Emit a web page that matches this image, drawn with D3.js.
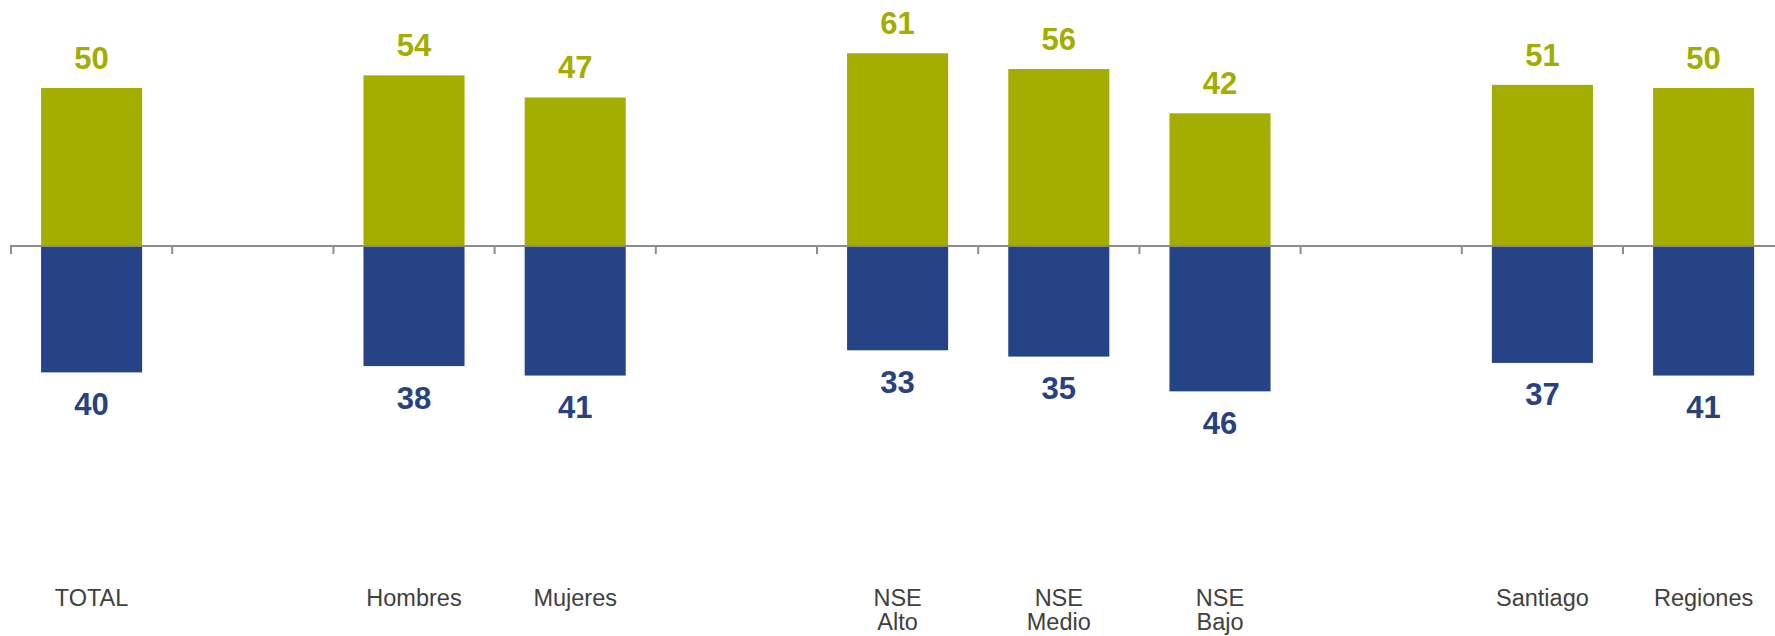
<!DOCTYPE html>
<html>
<head>
<meta charset="utf-8">
<script src="https://cdn.jsdelivr.net/npm/d3@7"></script>
<style>
  html, body { margin: 0; padding: 0; background: #ffffff; overflow: hidden; }
  svg { display: block; }
</style>
</head>
<body>
<svg id="chart" width="1775" height="636"></svg>
<script>
// ---- Data ----
const slots = ["TOTAL", "gap1", "Hombres", "Mujeres", "gap2", "NSE Alto", "NSE Medio", "NSE Bajo", "gap3", "Santiago", "Regiones"];
const categories = ["TOTAL", "Hombres", "Mujeres", "NSE Alto", "NSE Medio", "NSE Bajo", "Santiago", "Regiones"];
const categoryLabels = [["TOTAL"], ["Hombres"], ["Mujeres"], ["NSE", "Alto"], ["NSE", "Medio"], ["NSE", "Bajo"], ["Santiago"], ["Regiones"]];
const positiveValues = [50, 54, 47, 61, 56, 42, 51, 50];
const negativeValues = [40, 38, 41, 33, 35, 46, 37, 41];

// ---- Layout ----
const W = 1775, H = 636;
const svg = d3.select("#chart");
const green = "#a4ae00", blue = "#264485";
const axisY0 = 246;
const step = 161.2;
const x = d3.scaleBand().domain(slots).range([11, 11 + step * slots.length]).padding(0);
const barW = x.bandwidth() * 0.627;
const y = d3.scaleLinear().domain([-60, 70]).range([axisY0 + 60 * 3.16, axisY0 - 70 * 3.16]);

const rows = categories.map((c, i) => ({ c, pos: positiveValues[i], neg: negativeValues[i], lab: categoryLabels[i] }));
const cx = d => x(d.c) + x.bandwidth() / 2;

// positive bars
svg.append("g").selectAll("rect").data(rows).join("rect")
  .attr("x", d => cx(d) - barW / 2)
  .attr("y", d => y(d.pos))
  .attr("width", barW)
  .attr("height", d => y(0) - y(d.pos))
  .attr("fill", green);

// negative bars
svg.append("g").selectAll("rect").data(rows).join("rect")
  .attr("x", d => cx(d) - barW / 2)
  .attr("y", y(0))
  .attr("width", barW)
  .attr("height", d => y(-d.neg) - y(0))
  .attr("fill", blue);

// axis
const tickPositions = d3.range(slots.length + 1).map(k => x.range()[0] + k * step);
const axisG = svg.append("g").attr("stroke", "#8c8c8c").attr("stroke-width", 2);
axisG.append("line").attr("x1", 10).attr("x2", W).attr("y1", y(0)).attr("y2", y(0));
axisG.selectAll("line.tick").data(tickPositions).join("line").attr("class", "tick")
  .attr("x1", d => d).attr("x2", d => d)
  .attr("y1", y(0)).attr("y2", y(0) + 8);

// value labels
svg.append("g").selectAll("text").data(rows).join("text")
  .attr("x", cx)
  .attr("y", d => y(d.pos) - 19)
  .attr("text-anchor", "middle")
  .attr("font-family", "Liberation Sans, Arial, sans-serif")
  .attr("font-weight", "bold")
  .attr("font-size", 31)
  .attr("fill", "#a3ad00")
  .text(d => d.pos);

svg.append("g").selectAll("text").data(rows).join("text")
  .attr("x", cx)
  .attr("y", d => y(-d.neg) + 42.5)
  .attr("text-anchor", "middle")
  .attr("font-family", "Liberation Sans, Arial, sans-serif")
  .attr("font-weight", "bold")
  .attr("font-size", 31)
  .attr("fill", "#27427f")
  .text(d => d.neg);

// category labels
const catG = svg.append("g");
rows.forEach(d => {
  const t = catG.append("text")
    .attr("x", cx(d))
    .attr("y", 606)
    .attr("text-anchor", "middle")
    .attr("font-family", "Liberation Sans, Arial, sans-serif")
    .attr("font-size", 23.5)
    .attr("fill", "#404040");
  d.lab.forEach((line, i) => {
    t.append("tspan").attr("x", cx(d)).attr("dy", i === 0 ? 0 : 24).text(line);
  });
});
</script>
</body>
</html>
